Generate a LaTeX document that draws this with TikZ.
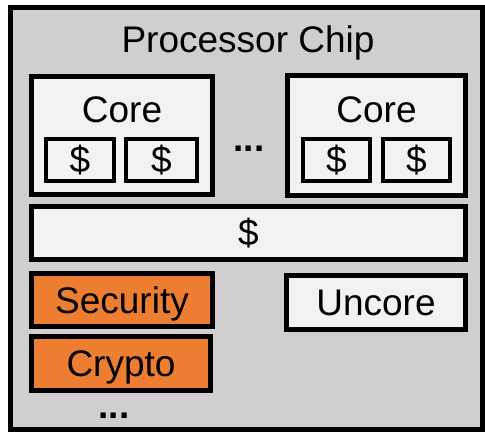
\documentclass[tikz,border=0pt]{standalone}
\usepackage{fontspec}
\setmainfont{Liberation Sans}
\definecolor{chipgrey}{HTML}{D0CECE}
\definecolor{boxlight}{HTML}{F2F2F2}
\definecolor{accorange}{HTML}{ED7D31}
\begin{document}
\begin{tikzpicture}[x=1pt,y=-1pt,
  every node/.style={font=\fontsize{37}{40}\selectfont, inner sep=0pt, outer sep=0pt},
  chip/.style={draw=black, fill=chipgrey, line width=5pt},
  blk/.style={draw=black, fill=boxlight, line width=5pt},
  capcentre/.style={text height=26.5pt, text depth=0pt},
  smallbox/.style={draw=black, fill=boxlight, line width=4pt, minimum width=68pt, minimum height=42pt},
  accel/.style={draw=black, fill=accorange, line width=5pt, capcentre},
  lbl/.style={anchor=base}
]
\useasboundingbox (0,0) rectangle (485,433);
\fill[white] (0,0) rectangle (485,433);
\node[chip, minimum width=472.5pt, minimum height=422pt] (chipbox) at (246.25,218.5) {};
\node[lbl] (title) at (248,53) {Processor Chip};
% left core
\node[blk, minimum width=181pt, minimum height=118pt] (core1) at (122,135.5) {};
\node[lbl] (core1t) at (122,123) {Core};
\node[smallbox] (c1a) at (80,160) {\$};
\node[smallbox, minimum width=71pt] (c1b) at (161.5,160) {\$};
% right core
\node[blk, minimum width=178pt, minimum height=120pt] (core2) at (376.5,135.5) {};
\node[lbl] (core2t) at (376.5,123) {Core};
\node[smallbox, minimum width=67pt] (c2a) at (336.5,160) {\$};
\node[smallbox, minimum width=67pt] (c2b) at (416.5,160) {\$};
% dots between cores
\node[lbl] (dots1) at (249,152) {\textbf{...}};
% shared cache
\node[blk, minimum width=434pt, minimum height=53pt] (llc) at (248.5,233) {\$};
% accelerators
\node[accel, minimum width=181pt, minimum height=53pt] (sec) at (122,300) {Security};
\node[accel, minimum width=179pt, minimum height=54pt] (cry) at (121,363.5) {Crypto};
\node[blk, capcentre, minimum width=179pt, minimum height=54pt] (unc) at (376,302.5) {Uncore};
\node[lbl] (dots2) at (114,418) {\textbf{...}};
\end{tikzpicture}
\end{document}
